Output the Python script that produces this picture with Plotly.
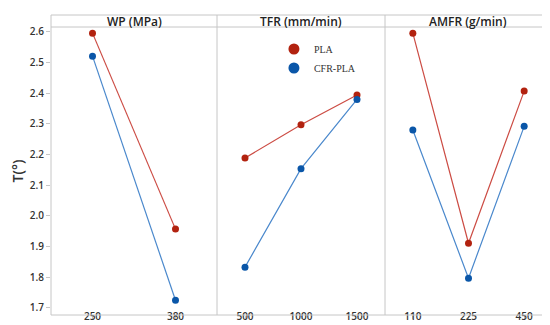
import plotly.graph_objects as go

panels = ["WP (MPa)", "TFR (mm/min)", "AMFR (g/min)"]
wp_levels = ["250", "380"]
tfr_levels = ["500", "1000", "1500"]
amfr_levels = ["110", "225", "450"]

pla_wp = [2.596, 1.957]
cfr_wp = [2.521, 1.725]
pla_tfr = [2.189, 2.297, 2.394]
cfr_tfr = [1.833, 2.154, 2.380]
pla_amfr = [2.596, 1.911, 2.407]
cfr_amfr = [2.280, 1.797, 2.292]

y_ticks = [1.7, 1.8, 1.9, 2.0, 2.1, 2.2, 2.3, 2.4, 2.5, 2.6]

RED_M = "#b2220f"
RED_L = "#cc4c44"
BLUE_M = "#0a56a8"
BLUE_L = "#4a88cc"
GRID = "#c6c6c6"
TXT = "#333333"

levels = [wp_levels, tfr_levels, amfr_levels]
pla = [pla_wp, pla_tfr, pla_amfr]
cfr = [cfr_wp, cfr_tfr, cfr_amfr]

W = 501.0
H = 300.0
bounds = [0, 166 / W, 334 / W, 1.0]
top = 1 - 12 / H

fig = go.Figure()
for i in range(3):
    xa = "x" if i == 0 else f"x{i+1}"
    for vals, lc, mc in [(pla[i], RED_L, RED_M), (cfr[i], BLUE_L, BLUE_M)]:
        fig.add_trace(go.Scatter(
            x=levels[i], y=vals, xaxis=xa, yaxis="y" if i == 0 else f"y{i+1}",
            mode="lines+markers", line=dict(color=lc, width=1.2),
            marker=dict(color=mc, size=7), showlegend=False, hoverinfo="skip",
            cliponaxis=False))

# legend-only traces
fig.add_trace(go.Scatter(x=[None], y=[None], mode="markers", name="PLA",
                         marker=dict(color=RED_M, size=11), xaxis="x2", yaxis="y2"))
fig.add_trace(go.Scatter(x=[None], y=[None], mode="markers", name="CFR-PLA",
                         marker=dict(color=BLUE_M, size=11), xaxis="x2", yaxis="y2"))

font_main = dict(family="Open Sans, Noto Sans, sans-serif", size=10, color=TXT, weight=600)

layout = dict(
    width=550, height=325,
    margin=dict(l=43, r=6, t=7, b=18, autoexpand=False),
    paper_bgcolor="white", plot_bgcolor="white",
    showlegend=True,
    legend=dict(x=0.445, y=0.935, xanchor="left", yanchor="top",
                font=dict(family="Liberation Serif, serif", size=10, color=TXT),
                bgcolor="rgba(0,0,0,0)", itemwidth=30, tracegroupgap=0),
)
for i in range(3):
    n = len(levels[i])
    xk = "xaxis" if i == 0 else f"xaxis{i+1}"
    yk = "yaxis" if i == 0 else f"yaxis{i+1}"
    layout[xk] = dict(domain=[bounds[i], bounds[i + 1]], type="category",
                      range=[-0.5, n - 0.5], showgrid=False, zeroline=False,
                      showline=False, ticks="outside", ticklen=3, tickcolor=GRID,
                      tickfont=font_main, automargin=False, ticklabelstandoff=-11,
                      anchor="y" if i == 0 else f"y{i+1}")
    ya = dict(domain=[0, top], range=[1.677, 2.616], showgrid=False, zeroline=False,
              showline=False, automargin=False, anchor="x" if i == 0 else f"x{i+1}")
    if i == 0:
        ya.update(tickvals=y_ticks, ticktext=[f"{v:.1f}" for v in y_ticks],
                  ticks="outside", ticklen=4, tickcolor=GRID, tickfont=font_main,
                  title=dict(text="T(°)", font=dict(family="Open Sans, sans-serif",
                             size=14, color=TXT, weight=600), standoff=8))
    else:
        ya.update(showticklabels=False, ticks="")
    layout[yk] = ya

shapes = [dict(type="rect", xref="paper", yref="paper", x0=0, x1=1, y0=0, y1=1,
               line=dict(color=GRID, width=1)),
          dict(type="line", xref="paper", yref="paper", x0=0, x1=1, y0=top, y1=top,
               line=dict(color=GRID, width=1))]
for b in bounds[1:3]:
    shapes.append(dict(type="line", xref="paper", yref="paper", x0=b, x1=b, y0=0, y1=1,
                       line=dict(color=GRID, width=1)))
layout["shapes"] = shapes

annotations = []
for i, p in enumerate(panels):
    annotations.append(dict(text=p, xref="paper", yref="paper",
                            x=(bounds[i] + bounds[i + 1]) / 2, y=(top + 1) / 2,
                            xanchor="center", yanchor="middle", showarrow=False,
                            font=dict(family="Open Sans, sans-serif", size=12,
                                      color="#222222", weight=600)))
layout["annotations"] = annotations

fig.update_layout(**layout)
fig.write_html("out.html")
